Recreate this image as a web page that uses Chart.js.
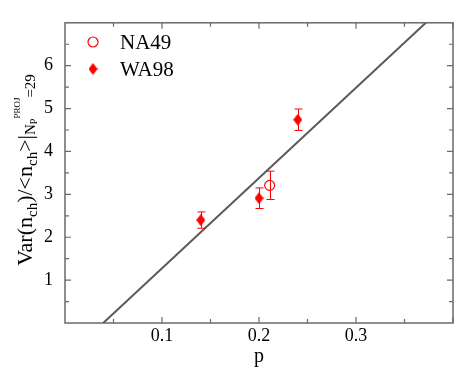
<!DOCTYPE html>
<html>
<head>
<meta charset="utf-8">
<script src="https://cdn.jsdelivr.net/npm/chart.js@4/dist/chart.umd.min.js"></script>
<style>
  html, body { margin: 0; padding: 0; background: #fff; }
  #wrap { width: 463px; height: 379px; }
</style>
</head>
<body>
<div id="wrap"><canvas id="c"></canvas></div>
<script>
'use strict';

// ── Data ──────────────────────────────────────────────────
const na49P   = [0.211];
const na49Var = [3.21];
const na49Err = [0.33];

const wa98P   = [0.14, 0.20, 0.24];
const wa98Var = [2.40, 2.91, 4.74];
const wa98Err = [0.19, 0.24, 0.25];

// straight-line fit, read at its two ends
const fitP   = [0.0394, 0.372];
const fitVar = [0, 7];

const xTicks = [0.1, 0.2, 0.3];
const yTicks = [1, 2, 3, 4, 5, 6];

const RED   = '#ff0000';
const FRAME = '#6a6a6a';
const SERIF = '"Liberation Serif", "DejaVu Serif", serif';

// ── Diamond marker ────────────────────────────────────────
function diamond(w, h) {
  const c = document.createElement('canvas');
  c.width = w; c.height = h;
  const g = c.getContext('2d');
  g.fillStyle = RED;
  g.beginPath();
  g.moveTo(w / 2, 0); g.lineTo(w, h / 2); g.lineTo(w / 2, h); g.lineTo(0, h / 2);
  g.closePath(); g.fill();
  return c;
}
const diaPt = diamond(9, 12);

// ── Frame, inward ticks, error bars, legend, y title ──────
const decor = {
  id: 'decor',
  beforeDatasetsDraw(chart) {
    const { ctx, chartArea: a, scales: { x, y } } = chart;
    ctx.save();
    ctx.strokeStyle = FRAME;
    ctx.lineWidth = 1.5;
    ctx.strokeRect(a.left, a.top, a.right - a.left, a.bottom - a.top);
    ctx.lineWidth = 1.2;
    ctx.beginPath();
    for (let v = 0.05; v < 0.4; v += 0.05) {
      const px = x.getPixelForValue(v);
      const L = Math.abs(v * 10 - Math.round(v * 10)) < 1e-6 ? 6 : 4;
      ctx.moveTo(px, a.bottom); ctx.lineTo(px, a.bottom - L);
      ctx.moveTo(px, a.top);    ctx.lineTo(px, a.top + L);
    }
    for (let v = 0.5; v < 7; v += 0.5) {
      const py = y.getPixelForValue(v);
      const L = Number.isInteger(v) ? 6 : 4;
      ctx.moveTo(a.left, py);  ctx.lineTo(a.left + L, py);
      ctx.moveTo(a.right, py); ctx.lineTo(a.right - L, py);
    }
    ctx.stroke();
    ctx.restore();
  },
  afterDatasetsDraw(chart) {
    const { ctx, scales: { x, y } } = chart;
    ctx.save();
    ctx.strokeStyle = RED;
    ctx.lineWidth = 1;
    const bars = (ps, vs, es) => ps.forEach((p, i) => {
      const px = Math.round(x.getPixelForValue(p)) + 0.5;
      const t = y.getPixelForValue(vs[i] + es[i]);
      const b = y.getPixelForValue(vs[i] - es[i]);
      ctx.beginPath();
      ctx.moveTo(px, t); ctx.lineTo(px, b);
      ctx.moveTo(px - 4, t); ctx.lineTo(px + 4, t);
      ctx.moveTo(px - 4, b); ctx.lineTo(px + 4, b);
      ctx.stroke();
    });
    bars(na49P, na49Var, na49Err);
    bars(wa98P, wa98Var, wa98Err);

    // legend
    ctx.lineWidth = 1.2;
    ctx.beginPath();
    ctx.arc(93, 42, 5, 0, Math.PI * 2);
    ctx.stroke();
    ctx.drawImage(diaPt, 88.5, 63);
    ctx.fillStyle = '#000';
    ctx.font = '21px ' + SERIF;
    ctx.textBaseline = 'middle';
    ctx.fillText('NA49', 120, 43);
    ctx.fillText('WA98', 120, 70);

    // y title with sub/superscripts
    const parts = [
      ['Var(n', 22, 0], ['ch', 15, 5], [')/<n', 22, 0], ['ch', 15, 5], ['>|', 22, 0],
      ['N', 15, 3], ['P', 10, 5], ['PROJ', 9, -12], ['=29', 15, 3]
    ];
    let total = 0;
    parts.forEach(p => { ctx.font = p[1] + 'px ' + SERIF; total += ctx.measureText(p[0]).width; });
    ctx.translate(32, 170);
    ctx.rotate(-Math.PI / 2);
    ctx.textBaseline = 'alphabetic';
    let cx = -total / 2;
    parts.forEach(p => {
      ctx.font = p[1] + 'px ' + SERIF;
      ctx.fillText(p[0], cx, p[2]);
      cx += ctx.measureText(p[0]).width;
    });
    ctx.restore();
  }
};

// ── Chart ─────────────────────────────────────────────────
new Chart(document.getElementById('c'), {
  type: 'scatter',
  data: {
    datasets: [
      {
        label: 'fit', type: 'line',
        data: fitP.map((p, i) => ({ x: p, y: fitVar[i] })),
        borderColor: '#5a5a5a', borderWidth: 2, pointRadius: 0, fill: false
      },
      {
        label: 'NA49',
        data: na49P.map((p, i) => ({ x: p, y: na49Var[i] })),
        pointStyle: 'circle', pointRadius: 5, borderWidth: 1.2,
        borderColor: RED, backgroundColor: '#fff'
      },
      {
        label: 'WA98',
        data: wa98P.map((p, i) => ({ x: p, y: wa98Var[i] })),
        pointStyle: diaPt, pointRadius: 6
      }
    ]
  },
  options: {
    responsive: true, maintainAspectRatio: false, animation: false,
    layout: { padding: { top: 13, right: 10, left: 0, bottom: 0 } },
    plugins: { legend: { display: false }, tooltip: { enabled: false } },
    scales: {
      x: {
        type: 'linear', min: 0, max: 0.4,
        afterBuildTicks: s => { s.ticks = xTicks.map(v => ({ value: v })); },
        afterFit: s => { s.height = 56; },
        grid: { display: false, drawTicks: false }, border: { display: false },
        ticks: { color: '#000', font: { family: SERIF, size: 18 }, padding: 2, maxRotation: 0,
                 callback: v => v.toFixed(1) },
        title: { display: true, text: 'p', color: '#000', font: { family: SERIF, size: 20 },
                 padding: { top: 0, bottom: 10 } }
      },
      y: {
        type: 'linear', min: 0, max: 7,
        afterBuildTicks: s => { s.ticks = yTicks.map(v => ({ value: v })); },
        afterFit: s => { s.width = 65; },
        grid: { display: false, drawTicks: false }, border: { display: false },
        ticks: { color: '#000', font: { family: SERIF, size: 18 }, padding: 12 }
      }
    }
  },
  plugins: [decor]
});
</script>
</body>
</html>
